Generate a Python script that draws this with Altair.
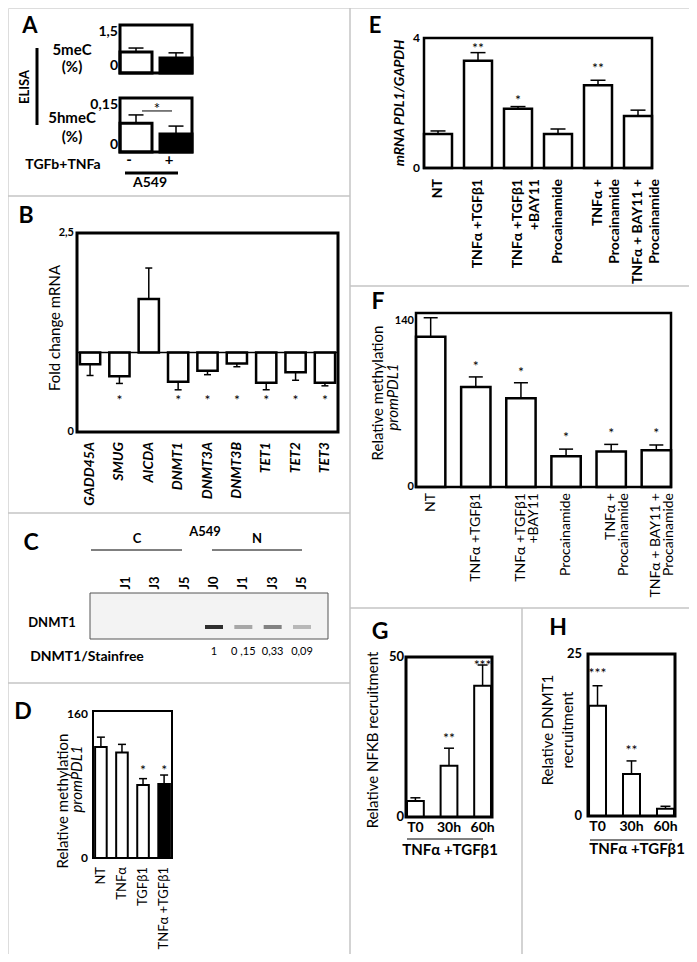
import altair as alt
import pandas as pd

W, H = 681, 946
M = 8
FONT = "Lato"


def px(v):
    return v - M


# ----------------------------- DATA -----------------------------
# A : ELISA
a_groups = ["-", "+"]
a_fill = ["white", "black"]
a_5mec = [0.66, 0.47]
a_5mec_err = [0.78, 0.63]
a_5mec_ticks = [0, 1.5]
a_5mec_tick_text = ["0", "1,5"]
a_5hmec = [0.080, 0.050]
a_5hmec_err = [0.103, 0.072]
a_5hmec_ticks = [0, 0.15]
a_5hmec_tick_text = ["0", "0,15"]
a_sig_level = 0.114

# B : fold change mRNA
b_genes = ["GADD45A", "SMUG", "AICDA", "DNMT1", "DNMT3A", "DNMT3B", "TET1", "TET2", "TET3"]
b_fold = [0.85, 0.70, 1.67, 0.63, 0.77, 0.86, 0.62, 0.75, 0.62]
b_err = [0.71, 0.61, 2.06, 0.53, 0.72, 0.82, 0.53, 0.65, 0.58]
b_star = ["", "*", "", "*", "*", "*", "*", "*", "*"]
b_star_y = [None, 0.44, None, 0.44, 0.44, 0.44, 0.44, 0.44, 0.44]
b_ticks = [0, 2.5]
b_tick_text = ["0", "2,5"]

# C : western blot
c_lanes = ["C J1", "C J3", "C J5", "N J0", "N J1", "N J3", "N J5"]
c_lane_labels = ["J1", "J3", "J5", "J0", "J1", "J3", "J5"]
c_nuclear_lanes = ["N J0", "N J1", "N J3", "N J5"]
c_ratio = [1, 0.15, 0.33, 0.09]
c_ratio_text = ["1", "0 ,15", "0,33", "0,09"]

# D : relative methylation promPDL1
d_cond = ["NT", "TNFα", "TGFβ1", "TNFα +TGFβ1"]
d_meth = [123, 117, 81, 82]
d_err = [134, 126, 88, 92]
d_fill = ["white", "white", "white", "black"]
d_star = ["", "", "*", "*"]
d_star_y = [None, None, 101, 101]
d_ticks = [0, 160]
d_tick_text = ["0", "160"]

# E : mRNA PDL1/GAPDH
e_cond = ["NT", "TNFα +TGFβ1", "TNFα +TGFβ1|+BAY11", "Procainamide",
          "TNFα +|Procainamide", "TNFα + BAY11 +|Procainamide"]
e_mrna = [1.05, 3.30, 1.82, 1.05, 2.55, 1.60]
e_err = [1.14, 3.55, 1.89, 1.20, 2.70, 1.78]
e_star = ["", "**", "*", "", "**", ""]
e_star_y = [None, 3.78, 2.18, None, 3.17, None]
e_ticks = [0, 4]
e_tick_text = ["0", "4"]

# F : relative methylation promPDL1
f_cond = e_cond
f_meth = [127, 84.5, 75, 26, 30, 31]
f_err = [143, 93, 88, 32, 36, 35.5]
f_star = ["", "*", "*", "*", "*", "*"]
f_star_y = [None, 105, 100, 45, 48, 48]
f_ticks = [0, 140]
f_tick_text = ["0", "140"]

# G : NFKB recruitment
g_time = ["T0", "30h", "60h"]
g_nfkb = [5, 16, 41]
g_err = [6, 21.5, 47.5]
g_star = ["", "**", "***"]
g_star_y = [None, 25.6, 48.4]
g_ticks = [0, 50]
g_tick_text = ["0", "50"]

# H : DNMT1 recruitment
h_time = ["T0", "30h", "60h"]
h_dnmt1 = [17, 6.5, 1.1]
h_err = [20.1, 8.5, 1.5]
h_star = ["***", "**", ""]
h_star_y = [22.5, 10.6, None]
h_ticks = [0, 25]
h_tick_text = ["0", "25"]

ONE = pd.DataFrame({"k": [0]})


def frame(box, sw=2.5):
    x0, y0, x1, y1 = box
    return alt.Chart(ONE).mark_rect(fillOpacity=0, stroke="black", strokeWidth=sw).encode(
        x=alt.value(px(x0)), x2=alt.value(px(x1)), y=alt.value(px(y0)), y2=alt.value(px(y1)))


def panel(cats, vals, errs, box, ydom, ticks, tick_text, fills=None, stars=None, star_y=None,
          base=None, pi=0.3, po=0.0, cap=12, bar_sw=2.5, frame_sw=2.5, star_size=14,
          ylab=None, xlab=None, extra=()):
    x0, y0, x1, y1 = box
    n = len(cats)
    df = pd.DataFrame({
        "cat": cats, "v": vals, "e": errs,
        "fill": fills if fills else ["white"] * n,
        "s": stars if stars else [""] * n,
        "sy": star_y if star_y else [None] * n,
    })
    if base is not None:
        df["b"] = [base] * n
    xs = alt.Scale(domain=cats, range=[px(x0), px(x1)], paddingInner=pi, paddingOuter=po)
    ys = alt.Scale(domain=ydom, range=[px(y1), px(y0)], nice=False, zero=False)
    ch = alt.Chart(df)
    enc = dict(x=alt.X("cat:N", scale=xs, axis=None, sort=None),
               y=alt.Y("v:Q", scale=ys, axis=None),
               fill=alt.Fill("fill:N", scale=None))
    if base is not None:
        enc["y2"] = alt.Y2("b:Q")
    bars = ch.mark_bar(stroke="black", strokeWidth=bar_sw).encode(**enc)
    err = ch.mark_rule(color="black", strokeWidth=1.5).encode(
        x=alt.X("cat:N", axis=None, sort=None), y=alt.Y("v:Q", axis=None), y2="e:Q")
    caps = ch.mark_tick(color="black", orient="horizontal", size=cap, thickness=1.5, opacity=1).encode(
        x=alt.X("cat:N", axis=None, sort=None), y=alt.Y("e:Q", axis=None))
    layers = [bars, err, caps]
    if stars:
        st = ch.transform_filter("datum.s != ''").mark_text(
            font=FONT, fontSize=star_size, color="black", baseline="middle", dy=4).encode(
            x=alt.X("cat:N", axis=None, sort=None), y=alt.Y("sy:Q", axis=None), text="s:N")
        layers.append(st)
    # y tick labels, placed through the panel's own y scale
    yl = dict(size=12, weight="bold", pad=3, flush=False)
    yl.update(ylab or {})
    tdf = pd.DataFrame({"tv": ticks, "tt": tick_text})
    if yl["flush"]:
        parts = [(tdf[tdf.tv == max(ticks)], "top"), (tdf[tdf.tv != max(ticks)], "bottom")]
    else:
        parts = [(tdf, "middle")]
    for part, bl in parts:
        layers.append(alt.Chart(part).mark_text(
            font=FONT, fontSize=yl["size"], fontWeight=yl["weight"], align="right",
            baseline=bl, color="black").encode(
            x=alt.value(px(x0 - yl["pad"])), y=alt.Y("tv:Q", axis=None), text="tt:N"))
    # category labels, placed through the panel's own x scale
    if xlab is not None:
        xl = dict(size=14, weight="normal", style="normal", pad=10, angle=270, lh=16, dx=0)
        xl.update(xlab)
        rot = xl["angle"] == 270
        layers.append(ch.mark_text(
            font=FONT, fontSize=xl["size"], fontWeight=xl["weight"], fontStyle=xl["style"],
            color="black", angle=xl["angle"], align="right" if rot else "center",
            baseline="middle" if rot else "top", lineBreak="|", lineHeight=xl["lh"],
            dx=xl["dx"]).encode(
            x=alt.X("cat:N", axis=None, sort=None), y=alt.value(px(y1 + xl["pad"])), text="cat:N"))
    layers += list(extra)
    layers.append(frame(box, frame_sw))
    return alt.layer(*layers)


# ---------------- A ----------------
A1_box = (120, 25, 192, 73)
A2_box = (120, 98, 192, 152)
pA1 = panel(a_groups, a_5mec, a_5mec_err, A1_box, [0, 1.5], a_5mec_ticks, a_5mec_tick_text,
            fills=a_fill, pi=0.2, po=0.0, cap=15, bar_sw=3, frame_sw=3,
            ylab=dict(size=14, pad=2, flush=True))
sig_df = pd.DataFrame({"y": [a_sig_level]})
sig_line = alt.Chart(sig_df).mark_rule(color="black", strokeWidth=1).encode(
    y=alt.Y("y:Q", axis=None), x=alt.value(px(142)), x2=alt.value(px(172)))
sig_star = alt.Chart(sig_df).mark_text(font=FONT, fontSize=15, dy=-2).encode(
    y=alt.Y("y:Q", axis=None), x=alt.value(px(157)), text=alt.value("*"))
pA2 = panel(a_groups, a_5hmec, a_5hmec_err, A2_box, [0, 0.15], a_5hmec_ticks, a_5hmec_tick_text,
            fills=a_fill, pi=0.2, po=0.0, cap=15, bar_sw=3, frame_sw=3,
            ylab=dict(size=14, pad=2, flush=True),
            xlab=dict(size=15, weight="bold", pad=1, angle=0, dx=-7),
            extra=(sig_line, sig_star))

# ---------------- B ----------------
B_box = (77, 233, 338, 432)
base_line = alt.Chart(pd.DataFrame({"y": [1]})).mark_rule(color="black", strokeWidth=1.5).encode(
    y=alt.Y("y:Q", axis=None), x=alt.value(px(77)), x2=alt.value(px(338)))
pB = panel(b_genes, b_fold, b_err, B_box, [0, 2.5], b_ticks, b_tick_text,
           stars=b_star, star_y=b_star_y, base=1, pi=0.31, po=0.1, cap=7, bar_sw=2.5,
           frame_sw=3, star_size=14,
           ylab=dict(size=11, pad=3),
           xlab=dict(size=14, weight="bold", style="italic", pad=10, angle=270),
           extra=(base_line,))

# ---------------- C ----------------
lane_scale = alt.Scale(type="point", domain=c_lanes, range=[px(126), px(302)], padding=0)
blot = alt.Chart(ONE).mark_rect(fill="#f3f3f3", stroke="#555555", strokeWidth=1).encode(
    x=alt.value(px(90)), x2=alt.value(px(328)), y=alt.value(px(593)), y2=alt.value(px(639)))
lane_df = pd.DataFrame({"lane": c_lanes, "lab": c_lane_labels})
lane_lab = alt.Chart(lane_df).mark_text(font=FONT, fontWeight="bold", fontSize=13, angle=270,
                                        baseline="middle").encode(
    x=alt.X("lane:N", scale=lane_scale, axis=None, sort=None), y=alt.value(px(583)), text="lab:N")
q_df = pd.DataFrame({"lane": c_nuclear_lanes, "q": c_ratio, "qt": c_ratio_text})
bands = alt.Chart(q_df).mark_tick(orient="horizontal", size=18, thickness=4, color="#1a1a1a").encode(
    x=alt.X("lane:N", axis=None, sort=None), y=alt.value(px(627)),
    opacity=alt.Opacity("q:Q", scale=alt.Scale(type="sqrt", domain=[0, 1], range=[0, 0.9]), legend=None))
q_txt = alt.Chart(q_df).mark_text(font=FONT, fontSize=11, color="black").encode(
    x=alt.X("lane:N", axis=None, sort=None), y=alt.value(px(652)), text="qt:N")
pC = alt.layer(blot, bands, lane_lab, q_txt)

# ---------------- D ----------------
D_box = (93, 711, 172, 858)
pD = panel(d_cond, d_meth, d_err, D_box, [0, 163], d_ticks, d_tick_text, fills=d_fill,
           stars=d_star, star_y=d_star_y, pi=0.45, po=0.1, cap=8, bar_sw=2, frame_sw=2,
           ylab=dict(size=12, pad=5),
           xlab=dict(size=13, pad=9, angle=270))

# ---------------- E ----------------
E_box = (424, 38, 652, 168)
pE = panel(e_cond, e_mrna, e_err, E_box, [0, 4], e_ticks, e_tick_text,
           stars=e_star, star_y=e_star_y, pi=0.3, po=0.0, cap=15, bar_sw=2.5, frame_sw=2.5,
           ylab=dict(size=12, pad=4),
           xlab=dict(size=14, weight="bold", pad=11, angle=270, lh=17))

# ---------------- F ----------------
F_box = (416, 313, 671, 487)
pF = panel(f_cond, f_meth, f_err, F_box, [0, 147], f_ticks, f_tick_text,
           stars=f_star, star_y=f_star_y, pi=0.35, po=0.0, cap=14, bar_sw=2.5, frame_sw=2.5,
           ylab=dict(size=11, pad=2),
           xlab=dict(size=14, pad=6, angle=270, lh=13))

# ---------------- G ----------------
G_box = (406, 657, 492, 817)
pG = panel(g_time, g_nfkb, g_err, G_box, [0, 50], g_ticks, g_tick_text,
           stars=g_star, star_y=g_star_y, pi=0.5, po=0.03, cap=10, bar_sw=2, frame_sw=3,
           ylab=dict(size=13, pad=2),
           xlab=dict(size=14, weight="bold", pad=4, angle=0))

# ---------------- H ----------------
H_box = (588, 654, 675, 816)
pH = panel(h_time, h_dnmt1, h_err, H_box, [0, 25], h_ticks, h_tick_text,
           stars=h_star, star_y=h_star_y, pi=0.5, po=0.03, cap=10, bar_sw=2, frame_sw=3,
           ylab=dict(size=13, pad=6),
           xlab=dict(size=14, weight="bold", pad=4, angle=0))


# ---------------- decorations ----------------
def lines(rows, color, width):
    df = pd.DataFrame(rows, columns=["x1", "y1", "x2", "y2"]) - M
    return alt.Chart(df).mark_rule(color=color, strokeWidth=width).encode(
        x=alt.X("x1:Q", scale=None, axis=None), x2="x2:Q",
        y=alt.Y("y1:Q", scale=None, axis=None), y2="y2:Q")


def texts(rows, weight="normal", style="normal"):
    df = pd.DataFrame(rows, columns=["x", "y", "t", "size", "angle"])
    df["x"] = df["x"] - M
    df["y"] = df["y"] - M
    return alt.Chart(df).mark_text(font=FONT, fontWeight=weight, fontStyle=style, color="black",
                                   baseline="middle", align="center").encode(
        x=alt.X("x:Q", scale=None, axis=None), y=alt.Y("y:Q", scale=None, axis=None),
        text="t:N", size=alt.Size("size:Q", scale=None, legend=None),
        angle=alt.Angle("angle:Q", scale=None, legend=None))


separators = lines([
    (350, 0, 350, 962),
    (0, 196, 350, 196),
    (0, 513, 350, 513),
    (0, 683, 350, 683),
    (350, 286, 697, 286),
    (350, 608, 697, 608),
    (522, 608, 522, 962),
], "#c4c4c4", 1.5)

thick_lines = lines([
    (37, 48, 37, 125),
    (125, 173, 178, 173),
], "black", 3)

thin_lines = lines([
    (91, 550, 182, 550),
    (212, 550, 302, 550),
    (407, 839, 483, 839),
    (590, 840, 672, 840),
], "black", 1)

letters = texts([
    (30, 26, "A", 22, 0), (26, 216, "B", 23, 0), (31, 543, "C", 23, 0), (23, 712, "D", 23, 0),
    (375, 26, "E", 22, 0), (378, 302, "F", 23, 0), (380, 632, "G", 23, 0), (558, 628, "H", 23, 0),
], weight="bold")

bold_txt = texts([
    (72, 50, "5meC", 15, 0), (72, 67, "(%)", 15, 0),
    (72, 118, "5hmeC", 15, 0), (72, 137, "(%)", 15, 0),
    (63, 165, "TGFb+TNFa", 14, 0), (150, 183, "A549", 14, 0),
    (25, 87, "ELISA", 13, 270),
    (137, 539, "C", 13, 0), (257, 539, "N", 13, 0), (205, 532, "A549", 13, 0),
    (52, 623, "DNMT1", 13, 0), (87, 657, "DNMT1/Stainfree", 14, 0),
    (450, 850, "TNFα +TGFβ1", 15, 0), (637, 849, "TNFα +TGFβ1", 15, 0),
], weight="bold")

normal_txt = texts([
    (55, 328, "Fold change  mRNA", 15, 270),
    (63, 801, "Relative methylation", 15, 270),
    (378, 393, "Relative methylation", 15, 270),
    (373, 740, "Relative NFKB recruitment", 15, 270),
    (548, 730, "Relative DNMT1", 15, 270),
    (568, 730, "recruitment", 15, 270),
])

italic_txt = texts([
    (77, 779, "promPDL1", 15, 270),
    (393, 397, "promPDL1", 15, 270),
], style="italic")

bold_italic_txt = texts([
    (400, 103, "mRNA PDL1/GAPDH", 14, 270),
], weight="bold", style="italic")

chart = alt.layer(
    separators, thick_lines, thin_lines,
    pA1, pA2, pB, pC, pD, pE, pF, pG, pH,
    letters, bold_txt, normal_txt, italic_txt, bold_italic_txt,
).resolve_scale(
    x="independent", y="independent"
).properties(
    width=W, height=H, padding=0, autosize=alt.AutoSizeParams(type="none")
).configure_view(stroke=None).configure(font=FONT)

chart.save("out.html", embed_options={"renderer": "svg", "actions": False})
